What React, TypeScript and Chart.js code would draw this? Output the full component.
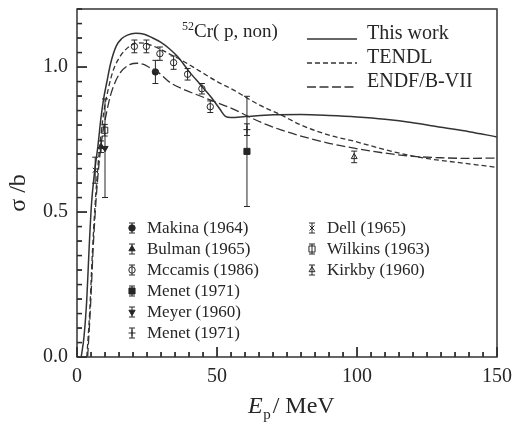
import { useEffect, useRef } from 'react';
import { Chart, registerables } from 'chart.js';
import { drawPoint } from 'chart.js/helpers';

Chart.register(...registerables);

const SERIF = '"Liberation Serif", "Times New Roman", serif';
const INK = '#262626';

// Model curves: proton energy (MeV) and non-elastic cross section (b)
const thisWorkE = [1.5, 2.5, 3.5, 4.3, 5.2, 6.3, 7.5, 8.5, 9.5, 10.7, 12, 14, 16, 18, 21, 24, 27, 30, 33, 36, 40, 44, 48, 51, 53, 55, 60, 70, 80, 90, 100, 110, 120, 130, 140, 150];
const thisWorkSigma = [0, 0.07, 0.2, 0.37, 0.53, 0.64, 0.73, 0.82, 0.89, 0.95, 1.012, 1.072, 1.098, 1.11, 1.116, 1.113, 1.1, 1.085, 1.063, 1.035, 0.985, 0.94, 0.895, 0.855, 0.83, 0.826, 0.829, 0.835, 0.836, 0.833, 0.828, 0.82, 0.808, 0.792, 0.777, 0.759];

const tendlE = [3.5, 4.5, 5.5, 6.5, 7.5, 8.5, 9.5, 11.3, 13, 15.5, 19, 22, 25, 30, 34.4, 37, 44, 50, 57, 60.7, 66, 72.6, 80, 90, 99, 110, 120, 126, 135, 150];
const tendlSigma = [0, 0.15, 0.36, 0.53, 0.66, 0.76, 0.84, 0.93, 0.99, 1.038, 1.073, 1.083, 1.08, 1.06, 1.038, 1.025, 0.985, 0.95, 0.915, 0.893, 0.865, 0.836, 0.8, 0.765, 0.744, 0.715, 0.693, 0.683, 0.672, 0.654];

const endfE = [3.8, 4.8, 5.8, 6.8, 7.8, 9, 10.5, 11.9, 13.5, 15.5, 19, 21.5, 23.8, 26, 28.6, 33.3, 38, 44, 50, 56, 60.7, 66, 72.6, 80, 90, 99, 110, 120, 130, 140, 150];
const endfSigma = [0, 0.17, 0.38, 0.54, 0.66, 0.76, 0.84, 0.9, 0.945, 0.981, 1.009, 1.013, 1.009, 0.998, 0.985, 0.946, 0.923, 0.9, 0.877, 0.854, 0.832, 0.808, 0.784, 0.762, 0.737, 0.72, 0.703, 0.692, 0.687, 0.685, 0.686];

// Measurements: energy, cross section, uncertainty
const makinaE = [28.0];
const makinaSigma = [0.983];
const makinaErr = [0.04];

const bulmanE = [8.6];
const bulmanSigma = [0.725];
const bulmanErr = [0.02];

const mccamisE = [20.5, 24.8, 29.6, 34.5, 39.5, 44.6, 47.6];
const mccamisSigma = [1.071, 1.071, 1.046, 1.015, 0.975, 0.925, 0.863];
const mccamisErr = [0.022, 0.022, 0.023, 0.023, 0.02, 0.018, 0.02];

const menetE = [60.7];
const menetSigma = [0.709];
const menetErr = [0.19];

const meyerE = [10.0];
const meyerSigma = [0.72];
const meyerErr = [0.17];

const menet2E = [60.7];
const menet2Sigma = [0.784];
const menet2Err = [0.02];

const dellE = [6.5];
const dellSigma = [0.644];
const dellErr = [0.045];

const wilkinsE = [9.9];
const wilkinsSigma = [0.782];
const wilkinsErr = [0.02];

const kirkbyE = [99];
const kirkbySigma = [0.69];
const kirkbyErr = [0.02];

const xTicks = [0, 50, 100, 150];
const yTicks = [0, 0.5, 1.0];

type Marker = { pointStyle: string; radius: number; rotation: number; filled: boolean };

const experiments = [
  { label: 'Makina (1964)', e: makinaE, s: makinaSigma, err: makinaErr, m: { pointStyle: 'circle', radius: 3.2, rotation: 0, filled: true } },
  { label: 'Bulman (1965)', e: bulmanE, s: bulmanSigma, err: bulmanErr, m: { pointStyle: 'triangle', radius: 3.6, rotation: 0, filled: true } },
  { label: 'Mccamis (1986)', e: mccamisE, s: mccamisSigma, err: mccamisErr, m: { pointStyle: 'circle', radius: 3.2, rotation: 0, filled: false } },
  { label: 'Menet (1971)', e: menetE, s: menetSigma, err: menetErr, m: { pointStyle: 'rect', radius: 4.3, rotation: 0, filled: true } },
  { label: 'Meyer (1960)', e: meyerE, s: meyerSigma, err: meyerErr, m: { pointStyle: 'triangle', radius: 3.6, rotation: 180, filled: true } },
  { label: 'Menet (1971)', e: menet2E, s: menet2Sigma, err: menet2Err, m: { pointStyle: 'cross', radius: 3.5, rotation: 0, filled: false } },
  { label: 'Dell (1965)', e: dellE, s: dellSigma, err: dellErr, m: { pointStyle: 'crossRot', radius: 3.5, rotation: 0, filled: false } },
  { label: 'Wilkins (1963)', e: wilkinsE, s: wilkinsSigma, err: wilkinsErr, m: { pointStyle: 'rect', radius: 4.3, rotation: 0, filled: false } },
  { label: 'Kirkby (1960)', e: kirkbyE, s: kirkbySigma, err: kirkbyErr, m: { pointStyle: 'triangle', radius: 3.4, rotation: 0, filled: false } },
];

const curves = [
  { label: 'This work', e: thisWorkE, s: thisWorkSigma, dash: [] as number[], width: 1.5 },
  { label: 'TENDL', e: tendlE, s: tendlSigma, dash: [5, 3], width: 1.3 },
  { label: 'ENDF/B-VII', e: endfE, s: endfSigma, dash: [9, 3.5], width: 1.3 },
];

const toPoints = (xs: number[], ys: number[]) => xs.map((x, i) => ({ x, y: ys[i] }));

function drawMarker(ctx: CanvasRenderingContext2D, m: Marker, x: number, y: number) {
  ctx.save();
  ctx.fillStyle = m.filled ? INK : 'rgba(255,255,255,0)';
  ctx.strokeStyle = INK;
  ctx.lineWidth = 1;
  drawPoint(ctx, { pointStyle: m.pointStyle as any, radius: m.radius, rotation: m.rotation, borderWidth: 1 }, x, y);
  ctx.restore();
}

function drawErrorBar(ctx: CanvasRenderingContext2D, x: number, y0: number, y1: number) {
  ctx.beginPath();
  ctx.moveTo(x, y0);
  ctx.lineTo(x, y1);
  ctx.moveTo(x - 3, y0);
  ctx.lineTo(x + 3, y0);
  ctx.moveTo(x - 3, y1);
  ctx.lineTo(x + 3, y1);
  ctx.stroke();
}

// Frame plus inward major/minor ticks on the left and bottom axes
function drawFrameAndTicks(chart: any) {
  const { ctx, chartArea: a, scales } = chart;
  const xs = scales.x;
  const ys = scales.y;
  ctx.save();
  ctx.setLineDash([]);
  ctx.strokeStyle = '#4a4a4a';
  ctx.lineWidth = 1.2;
  ctx.strokeRect(a.left, a.top, a.right - a.left, a.bottom - a.top);
  ctx.fillStyle = '#2a2a2a';
  for (let k = 0; k <= 30; k++) {
    const v = k * 5;
    const px = xs.getPixelForValue(v);
    const len = k % 10 === 0 ? 10 : 5;
    ctx.fillRect(px - 0.6, a.bottom - len, 1.3, len);
  }
  for (let k = 0; k <= 24; k++) {
    const py = ys.getPixelForValue(k * 0.05);
    const len = k % 10 === 0 ? 10 : 5;
    ctx.fillRect(a.left, py - 0.6, len, 1.3);
  }
  ctx.restore();
}

const axisTicks = {
  id: 'axisTicks',
  afterDatasetsDraw(chart: any) {
    drawFrameAndTicks(chart);
  },
  afterDraw(chart: any) {
    drawFrameAndTicks(chart);
  },
};

const decorations = {
  id: 'decorations',
  afterDatasetsDraw(chart: any) {
    const { ctx, scales } = chart;
    const xs = scales.x;
    const ys = scales.y;
    ctx.save();
    ctx.strokeStyle = INK;
    ctx.lineWidth = 1;
    experiments.forEach((ex) => {
      ex.e.forEach((e, i) => {
        const px = xs.getPixelForValue(e);
        drawErrorBar(ctx, px, ys.getPixelForValue(ex.s[i] + ex.err[i]), ys.getPixelForValue(ex.s[i] - ex.err[i]));
      });
    });
    ctx.restore();
  },
  afterDraw(chart: any) {
    const { ctx, chartArea: a } = chart;
    ctx.save();
    ctx.setLineDash([]);
    ctx.fillStyle = INK;
    ctx.textBaseline = 'alphabetic';

    // axis titles
    ctx.save();
    ctx.translate(a.left - 52, (a.top + a.bottom) / 2 + 10);
    ctx.rotate(-Math.PI / 2);
    ctx.textAlign = 'center';
    ctx.font = `24px ${SERIF}`;
    ctx.fillText('σ /b', 0, 0);
    ctx.restore();

    let tx = 248;
    const ty = 413;
    ctx.textAlign = 'left';
    ctx.font = `italic 24px ${SERIF}`;
    ctx.fillText('E', tx, ty);
    tx += ctx.measureText('E').width + 0.5;
    ctx.font = `15px ${SERIF}`;
    ctx.fillText('p', tx, ty + 6);
    tx += ctx.measureText('p').width + 2;
    ctx.font = `24px ${SERIF}`;
    ctx.fillText('/ MeV', tx, ty);

    // reaction label
    let rx = a.left + 105;
    const ry = a.top + 28;
    ctx.font = `12px ${SERIF}`;
    ctx.fillText('52', rx, ry - 7);
    rx += ctx.measureText('52').width;
    ctx.font = `19px ${SERIF}`;
    ctx.fillText('Cr( p, non)', rx, ry);

    // curve legend
    curves.forEach((c, i) => {
      const by = a.top + 30 + i * 24;
      ctx.save();
      ctx.strokeStyle = '#333';
      ctx.lineWidth = c.width;
      ctx.setLineDash(c.dash);
      ctx.beginPath();
      ctx.moveTo(a.left + 230, by);
      ctx.lineTo(a.left + 280, by);
      ctx.stroke();
      ctx.restore();
      ctx.font = `20px ${SERIF}`;
      ctx.fillText(c.label, a.left + 290, by);
    });

    // measurement legend, two columns
    ctx.font = `17px ${SERIF}`;
    ctx.textBaseline = 'middle';
    experiments.forEach((ex, i) => {
      const col = i < 6 ? 0 : 1;
      const row = col === 0 ? i : i - 6;
      const mx = a.left + (col === 0 ? 55 : 235);
      const my = a.top + 219 + row * 21;
      ctx.strokeStyle = INK;
      ctx.lineWidth = 1;
      drawErrorBar(ctx, mx, my - 5, my + 5);
      drawMarker(ctx, ex.m, mx, my);
      ctx.fillStyle = INK;
      ctx.fillText(ex.label, mx + 15, my + 1);
    });
    ctx.restore();
  },
};

export default function App() {
  const canvasRef = useRef<HTMLCanvasElement | null>(null);

  useEffect(() => {
    const canvas = canvasRef.current;
    if (!canvas) return;

    const lineSets = curves.map((c) => ({
      label: c.label,
      data: toPoints(c.e, c.s),
      showLine: true,
      borderColor: '#333',
      borderWidth: c.width,
      borderDash: c.dash,
      pointRadius: 0,
      cubicInterpolationMode: 'monotone' as const,
      fill: false,
    }));

    const pointSets = experiments.map((ex) => ({
      label: ex.label,
      data: toPoints(ex.e, ex.s),
      showLine: false,
      pointStyle: ex.m.pointStyle,
      pointRotation: ex.m.rotation,
      pointRadius: ex.m.radius,
      pointBorderWidth: 1,
      pointBorderColor: INK,
      pointBackgroundColor: ex.m.filled ? INK : 'rgba(255,255,255,0)',
    }));

    const chart = new Chart(canvas, {
      type: 'scatter',
      data: { datasets: [...lineSets, ...pointSets] as any },
      options: {
        animation: false,
        responsive: false,
        devicePixelRatio: 1,
        layout: { padding: { top: 9, right: 15, left: 0, bottom: 0 } },
        plugins: { legend: { display: false }, tooltip: { enabled: false } },
        scales: {
          x: {
            type: 'linear',
            min: 0,
            max: 150,
            grid: { display: false, drawTicks: false },
            border: { display: false },
            afterBuildTicks: (s: any) => {
              s.ticks = xTicks.map((value) => ({ value }));
            },
            afterFit: (s: any) => {
              s.height = 68;
              s.paddingLeft = 0;
              s.paddingRight = 0;
            },
            ticks: {
              color: INK,
              padding: 8,
              maxRotation: 0,
              font: { family: SERIF, size: 20 },
              callback: (v: any) => String(v),
            },
          },
          y: {
            type: 'linear',
            min: 0,
            max: 1.2,
            grid: { display: false, drawTicks: false },
            border: { display: false },
            afterBuildTicks: (s: any) => {
              s.ticks = yTicks.map((value) => ({ value }));
            },
            afterFit: (s: any) => {
              s.width = 77;
              s.paddingTop = 0;
              s.paddingBottom = 0;
            },
            ticks: {
              color: INK,
              padding: 9,
              font: { family: SERIF, size: 20 },
              callback: (v: any) => Number(v).toFixed(1),
            },
          },
        },
      },
      plugins: [axisTicks, decorations],
    });

    return () => chart.destroy();
  }, []);

  return (
    <div style={{ position: 'absolute', left: 0, top: 0, width: 512, height: 425, background: '#fff' }}>
      <canvas ref={canvasRef} width={512} height={425} />
    </div>
  );
}
